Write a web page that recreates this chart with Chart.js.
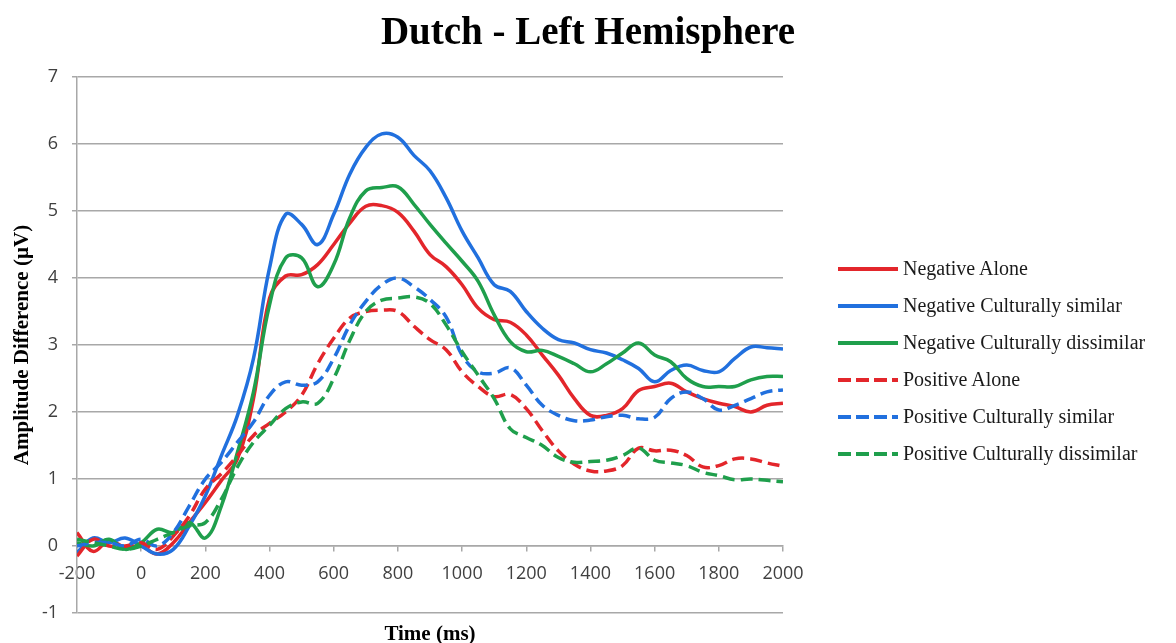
<!DOCTYPE html>
<html>
<head>
<meta charset="utf-8">
<script src="https://cdn.jsdelivr.net/npm/chart.js@4"></script>
<style>
  body { margin: 0; background: #fff; }
  #wrap { position: relative; width: 1176px; height: 643px; }
  #chart { position: absolute; left: 0; top: 0; }
  #title {
    position: absolute; left: 0; top: 8px; width: 1176px; text-align: center;
    font: bold 39px "Liberation Serif", "Times New Roman", serif; color: #000;
  }
  #legend {
    position: absolute; left: 838px; top: 250px;
    font: 20px "Liberation Serif", "Times New Roman", serif; color: #1a1a1a;
  }
  #legend .row { display: flex; align-items: center; height: 37px; }
  #legend svg { margin-right: 5px; }
</style>
</head>
<body>
<div id="wrap">
  <canvas id="chart" width="1176" height="643"></canvas>
  <div id="title">Dutch - Left Hemisphere</div>
  <div id="legend"></div>
</div>
<script>
// time points (ms)
const times = [-200, -150, -100, -50, 0, 50, 100, 150, 200, 250, 300, 350, 400, 450, 500,
  550, 600, 650, 700, 750, 800, 850, 900, 950, 1000, 1050, 1100, 1150, 1200, 1250, 1300,
  1350, 1400, 1450, 1500, 1550, 1600, 1650, 1700, 1750, 1800, 1850, 1900, 1950, 2000];

// amplitude difference (µV)
const negAlone = [0.2, -0.08, 0.08, -0.02, 0.0, -0.12, 0.05, 0.35, 0.65, 0.98, 1.3, 2.2, 3.7, 4.03, 4.05,
  4.2, 4.5, 4.82, 5.07, 5.08, 4.98, 4.7, 4.35, 4.17, 3.9, 3.55, 3.38, 3.34, 3.15, 2.85, 2.55,
  2.2, 1.95, 1.95, 2.05, 2.32, 2.38, 2.43, 2.3, 2.2, 2.13, 2.08, 2.0, 2.1, 2.13];
const negSimilar = [-0.1, 0.12, 0.05, 0.12, 0.0, -0.12, -0.05, 0.3, 0.75, 1.35, 1.95, 2.8, 4.15, 4.95, 4.8,
  4.5, 4.95, 5.55, 5.95, 6.15, 6.1, 5.83, 5.6, 5.2, 4.7, 4.3, 3.9, 3.8, 3.5, 3.25, 3.08,
  3.03, 2.93, 2.88, 2.78, 2.65, 2.45, 2.62, 2.7, 2.62, 2.6, 2.8, 2.97, 2.96, 2.94];
const negDissimilar = [0.05, 0.0, 0.1, -0.05, 0.05, 0.25, 0.2, 0.35, 0.12, 0.6, 1.4, 2.3, 3.6, 4.3, 4.3,
  3.87, 4.2, 4.9, 5.3, 5.35, 5.36, 5.1, 4.8, 4.52, 4.25, 3.95, 3.45, 3.05, 2.9, 2.92, 2.83,
  2.72, 2.6, 2.72, 2.88, 3.03, 2.85, 2.75, 2.5, 2.38, 2.38, 2.38, 2.48, 2.53, 2.53];
const posAlone = [-0.15, 0.1, 0.0, 0.0, 0.05, -0.05, 0.15, 0.45, 0.85, 1.08, 1.35, 1.65, 1.83, 2.0, 2.25,
  2.72, 3.1, 3.4, 3.5, 3.52, 3.5, 3.28, 3.08, 2.93, 2.6, 2.38, 2.23, 2.26, 2.05, 1.72, 1.42,
  1.22, 1.12, 1.12, 1.2, 1.46, 1.42, 1.43, 1.35, 1.18, 1.2, 1.3, 1.3, 1.24, 1.19];
const posSimilar = [0.0, 0.05, 0.05, 0.0, 0.1, 0.0, 0.2, 0.6, 1.0, 1.25, 1.55, 1.85, 2.25, 2.45, 2.4,
  2.45, 2.8, 3.3, 3.65, 3.9, 4.0, 3.87, 3.68, 3.42, 2.85, 2.6, 2.58, 2.66, 2.4, 2.1, 1.95,
  1.87, 1.88, 1.93, 1.95, 1.9, 1.92, 2.2, 2.3, 2.2, 2.03, 2.1, 2.2, 2.3, 2.33];
const posDissimilar = [0.1, 0.05, 0.0, -0.05, 0.0, 0.1, 0.2, 0.3, 0.35, 0.7, 1.18, 1.55, 1.8, 2.05, 2.15,
  2.13, 2.5, 3.07, 3.5, 3.67, 3.7, 3.72, 3.62, 3.3, 2.9, 2.55, 2.2, 1.75, 1.62, 1.5, 1.32,
  1.25, 1.26, 1.28, 1.35, 1.46, 1.28, 1.24, 1.2, 1.1, 1.05, 0.99, 1.0, 0.98, 0.96];

const yTicks = [-1, 0, 1, 2, 3, 4, 5, 6, 7];

const RED = '#e3262b';
const BLUE = '#2170de';
const GREEN = '#1f9f4c';
const GRID = '#a8a8a8';
const DASH = [12, 6];

function series(label, values, color, dashed) {
  return {
    label,
    data: times.map((t, i) => ({ x: t, y: values[i] })),
    borderColor: color,
    backgroundColor: color,
    borderWidth: 3.5,
    borderDash: dashed ? DASH : [],
    pointRadius: 0,
    tension: 0.4,
    fill: false,
  };
}

const chart = new Chart(document.getElementById('chart'), {
  type: 'line',
  data: {
    datasets: [
      series('Positive Culturally dissimilar', posDissimilar, GREEN, true),
      series('Positive Culturally similar', posSimilar, BLUE, true),
      series('Positive Alone', posAlone, RED, true),
      series('Negative Culturally dissimilar', negDissimilar, GREEN, false),
      series('Negative Culturally similar', negSimilar, BLUE, false),
      series('Negative Alone', negAlone, RED, false),
    ],
  },
  options: {
    responsive: false,
    animation: false,
    layout: { padding: { top: 77, right: 393, bottom: 30, left: 0 } },
    plugins: {
      legend: { display: false },
      tooltip: { enabled: false },
    },
    scales: {
      x: {
        type: 'linear',
        position: { y: 0 },
        min: -200,
        max: 2000,
        ticks: {
          stepSize: 200,
          padding: 12,
          color: '#404040',
          font: { family: 'Open Sans', size: 18 },
          callback: (v) => String(v),
        },
        grid: { drawOnChartArea: false, drawTicks: true, tickLength: 5, color: GRID, lineWidth: 1.5 },
        border: { display: true, color: GRID, width: 1.5 },
        title: {
          display: true,
          text: 'Time (ms)',
          color: '#000',
          padding: { top: 25, bottom: 0 },
          font: { family: 'Liberation Serif', size: 21, weight: 'bold' },
        },
      },
      y: {
        min: -1,
        max: 7,
        afterFit: (scale) => { scale.width = 77; },
        afterBuildTicks: (scale) => { scale.ticks = yTicks.map((v) => ({ value: v })); },
        ticks: {
          padding: 14,
          color: '#404040',
          font: { family: 'Open Sans', size: 18 },
        },
        grid: { color: GRID, lineWidth: 1.5, tickLength: 5 },
        border: { display: true, color: GRID, width: 1.5 },
        title: {
          display: true,
          text: 'Amplitude Difference (µV)',
          color: '#000',
          padding: { top: 10, bottom: 0 },
          font: { family: 'Liberation Serif', size: 21, weight: 'bold' },
        },
      },
    },
  },
});

// legend, built from the chart's datasets in the reference order
const legendOrder = ['Negative Alone', 'Negative Culturally similar', 'Negative Culturally dissimilar',
  'Positive Alone', 'Positive Culturally similar', 'Positive Culturally dissimilar'];
const legendEl = document.getElementById('legend');
legendOrder.forEach((name) => {
  const ds = chart.data.datasets.find((d) => d.label === name);
  const dash = ds.borderDash.length ? 'stroke-dasharray="13 5"' : '';
  const row = document.createElement('div');
  row.className = 'row';
  row.innerHTML = '<svg width="60" height="8"><line x1="0" y1="4" x2="60" y2="4" stroke="' + ds.borderColor +
    '" stroke-width="4" ' + dash + '/></svg><span>' + ds.label + '</span>';
  legendEl.appendChild(row);
});
</script>
</body>
</html>
